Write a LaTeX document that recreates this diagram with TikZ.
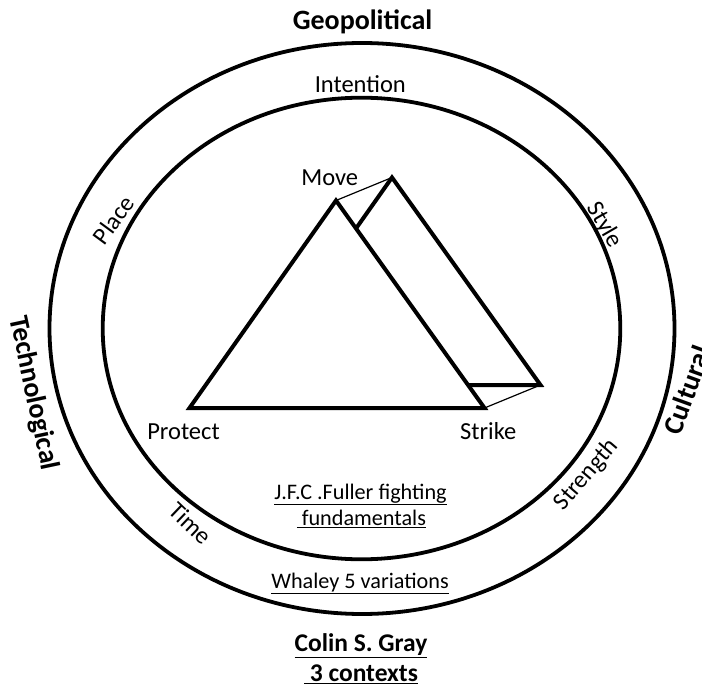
\documentclass[tikz,border=0pt]{standalone}
\usepackage{fontspec}
\setmainfont{Carlito}
\usetikzlibrary{calc}

\tikzset{
  ring/.style={line width=3.8pt},
  side/.style={line width=4pt},
  link/.style={line width=1.2pt},
  lbl/.style={inner sep=0pt, font=\fontsize{24.5}{29}\selectfont},
  note/.style={inner sep=0pt, font=\fontsize{22.2}{26}\selectfont},
  ctx/.style={inner sep=0pt, font=\bfseries\fontsize{28}{33}\selectfont},
  src/.style={inner sep=0pt, font=\bfseries\fontsize{25.5}{30}\selectfont},
}

\begin{document}
\begin{tikzpicture}[x=1pt, y=-1pt]
        \useasboundingbox (0,0) rectangle (702,687);

        % Two rings
        \draw[ring] (362,328.5) ellipse [x radius=312.5pt, y radius=285.5pt];
        \draw[ring] (361.5,328.5) ellipse [x radius=258.8pt, y radius=230.8pt];

        % Front triangle
        \coordinate (move) at (336,200.5);
        \coordinate (protect) at (189.5,408);
        \coordinate (strike) at (484.5,408);
        \draw[side] (move) -- (protect) -- (strike) -- cycle;

        % Back triangle, shifted
        \coordinate (bmove) at ($(move)+(56,-23)$);
        \coordinate (bprotect) at ($(protect)+(56,-23)$);
        \coordinate (bstrike) at ($(strike)+(56,-23)$);
        \draw[side] (intersection of move--strike and bmove--bprotect) -- (bmove) -- (bstrike)
            -- (intersection of move--strike and bstrike--bprotect);
        \draw[link] (move) -- (bmove);
        \draw[link] (strike) -- (bstrike);

        % Outer contexts
        \node[ctx, anchor=base] (geo) at (362.5,29.3) {Geopolitical};
        \node[ctx, rotate=-78] (tech) at (33.3,393.3) {Technological};
        \node[ctx, rotate=70] (cult) at (687,390) {Cultural};

        % Ring labels
        \node[lbl, anchor=base] (intention) at (360.3,92.7) {Intention};
        \node[lbl, rotate=53.6] (place) at (113.6,220) {Place};
        \node[lbl, rotate=-60] (style) at (604.2,225) {Style};
        \node[lbl, rotate=49.4] (strength) at (586.7,475) {Strength};
        \node[lbl, rotate=-43.7] (time) at (190.7,523.3) {Time};

        % Corners
        \node[lbl, anchor=base] (mv) at (329.7,186) {Move};
        \node[lbl, anchor=base] (pr) at (183.5,439.3) {Protect};
        \node[lbl, anchor=base] (st) at (488.3,439.3) {Strike};

        % Captions
        \node[note, anchor=base] (fuller) at (360.6,499.3) {\underline{J.F.C .Fuller fighting}};
        \node[note, anchor=base] (fund) at (361.4,525.5) {\underline{~fundamentals}};
        \node[note, anchor=base] (whaley) at (360,588) {\underline{Whaley 5 variations}};
        \node[src, anchor=base] (gray) at (361,651.7) {\underline{Colin S. Gray}};
        \node[src, anchor=base] (three) at (361,681.7) {\underline{~3 contexts}};
    \end{tikzpicture}
\end{document}
